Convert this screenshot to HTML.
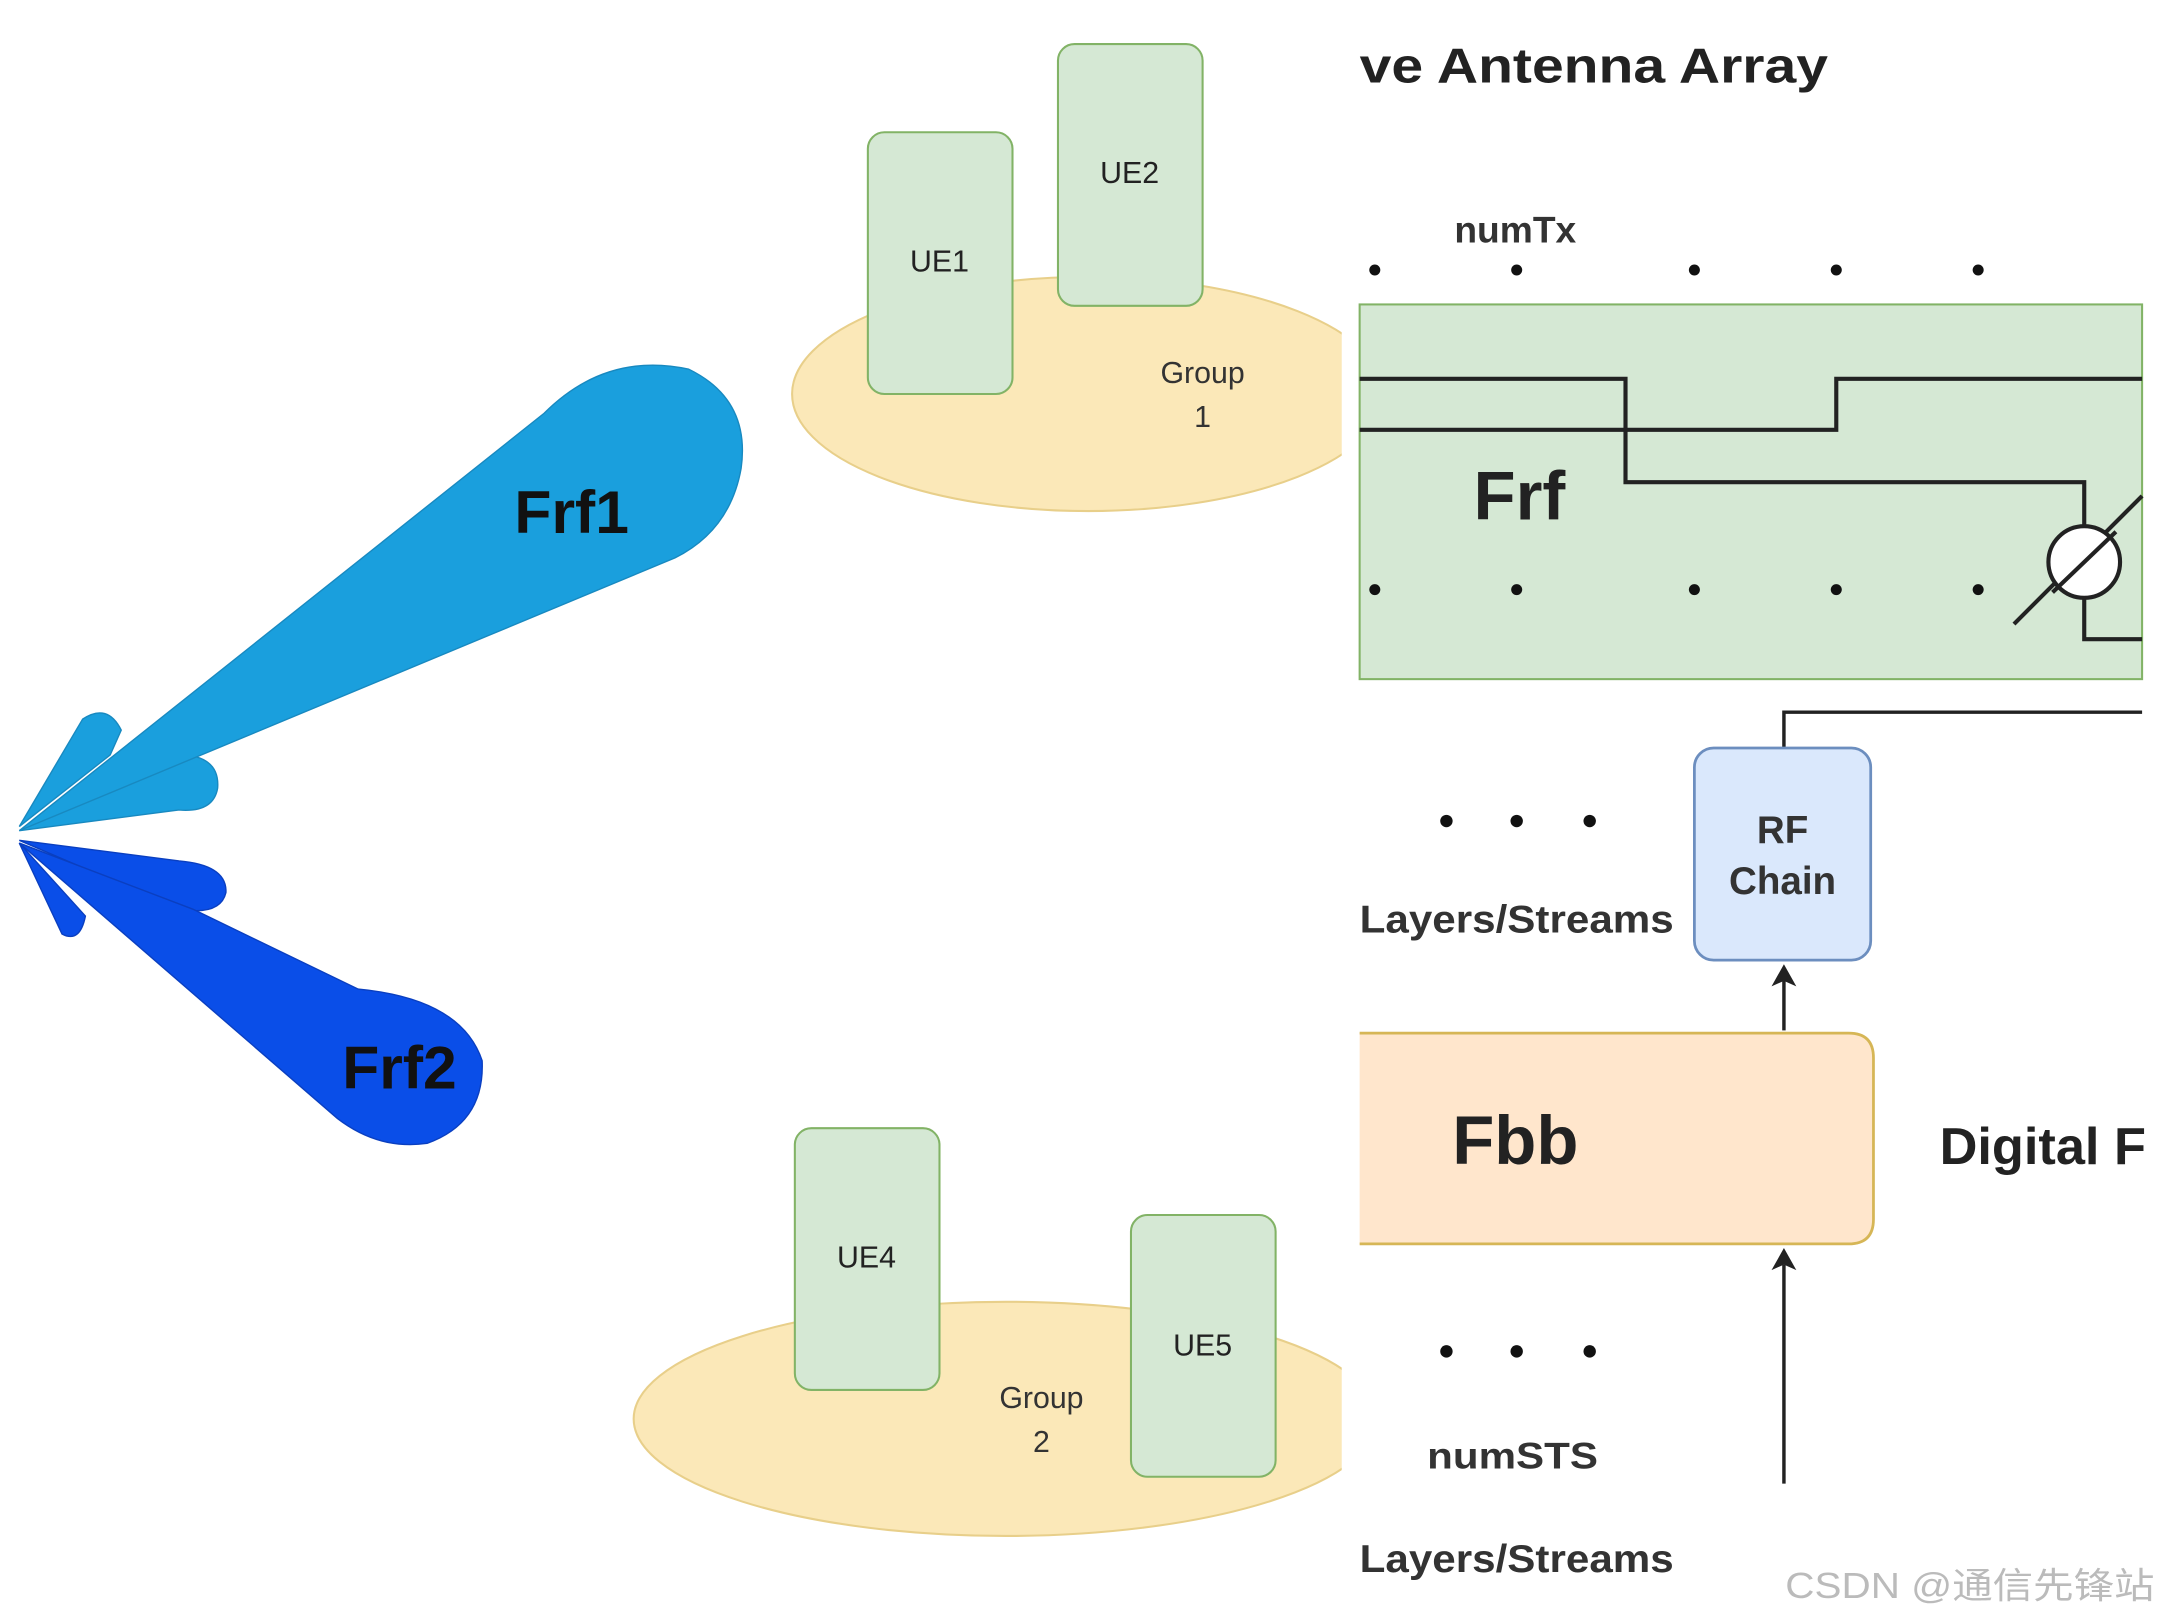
<!DOCTYPE html>
<html><head><meta charset="utf-8"><style>html,body{margin:0;padding:0;background:#fff}svg{display:block}</style></head>
<body>
<svg width="2160" height="1620" viewBox="0 0 1568 1176" preserveAspectRatio="none" xmlns="http://www.w3.org/2000/svg" font-family="Liberation Sans, sans-serif">
<rect width="1568" height="1176" fill="#fff"/>
<!-- beams -->
<g fill="#1a9fdd" stroke="#1889c0" stroke-width="1">
<path d="M14,600 L60,522 Q78,510 88,530 L80,548 Z"/>
<path d="M14,603 L120,548 Q160,545 158,572 Q155,590 130,588 Z"/>
<path d="M14,603 L395,300 Q440,255 500,268 Q545,290 538,340 Q530,385 490,405 Z"/>
</g>
<g fill="#0a4ee8" stroke="#0a3fc0" stroke-width="1">
<path d="M14,612 L62,665 Q58,685 45,678 Z"/>
<path d="M14,610 L130,625 Q165,628 164,648 Q160,665 130,660 Z"/>
<path d="M14,612 L140,660 L260,718 Q335,725 350,770 Q352,815 310,830 Q275,835 245,812 Z"/>
</g>
<text x="415" y="387" font-size="44" font-weight="bold" text-anchor="middle" fill="#111">Frf1</text>
<text x="290" y="790" font-size="44" font-weight="bold" text-anchor="middle" fill="#111">Frf2</text>
<!-- group 1 -->
<ellipse cx="790" cy="286" rx="215" ry="85" fill="#fbe8b8" stroke="#e8cf8a" stroke-width="1.5"/>
<rect x="630" y="96" width="105" height="190" rx="12" fill="#d5e8d4" stroke="#82b366" stroke-width="1.5"/>
<rect x="768" y="32" width="105" height="190" rx="12" fill="#d5e8d4" stroke="#82b366" stroke-width="1.5"/>
<text x="682" y="197" font-size="22" text-anchor="middle" fill="#222">UE1</text>
<text x="820" y="133" font-size="22" text-anchor="middle" fill="#222">UE2</text>
<text x="873" y="278" font-size="22" text-anchor="middle" fill="#333">Group</text>
<text x="873" y="310" font-size="22" text-anchor="middle" fill="#333">1</text>
<!-- group 2 -->
<ellipse cx="730" cy="1030" rx="270" ry="85" fill="#fbe8b8" stroke="#e8cf8a" stroke-width="1.5"/>
<rect x="577" y="819" width="105" height="190" rx="12" fill="#d5e8d4" stroke="#82b366" stroke-width="1.5"/>
<rect x="821" y="882" width="105" height="190" rx="12" fill="#d5e8d4" stroke="#82b366" stroke-width="1.5"/>
<text x="629" y="920" font-size="22" text-anchor="middle" fill="#222">UE4</text>
<text x="873" y="984" font-size="22" text-anchor="middle" fill="#222">UE5</text>
<text x="756" y="1022" font-size="22" text-anchor="middle" fill="#333">Group</text>
<text x="756" y="1054" font-size="22" text-anchor="middle" fill="#333">2</text>
<!-- right panel -->
<rect x="974" y="0" width="594" height="1176" fill="#fff"/>
<text x="987" y="60" font-size="36" font-weight="bold" fill="#222" textLength="340" lengthAdjust="spacingAndGlyphs">ve Antenna Array</text>
<text x="1100" y="176" font-size="27" font-weight="bold" text-anchor="middle" fill="#333">numTx</text>
<g fill="#111"><circle cx="998" cy="196" r="4"/><circle cx="1101" cy="196" r="4"/><circle cx="1230" cy="196" r="4"/><circle cx="1333" cy="196" r="4"/><circle cx="1436" cy="196" r="4"/></g>
<rect x="987" y="221" width="568" height="272" fill="#d5e8d4" stroke="#82b366" stroke-width="1.5"/>
<g fill="none" stroke="#222" stroke-width="3">
<polyline points="987,275 1180,275 1180,350 1513,350 1513,390"/>
<polyline points="987,312 1333,312 1333,275 1555,275"/>
<polyline points="1513,427 1513,464 1555,464"/>
<line x1="1462" y1="453" x2="1555" y2="360"/>
</g>
<circle cx="1513" cy="408" r="26" fill="#fff" stroke="#222" stroke-width="3"/>
<line x1="1490" y1="430" x2="1536" y2="386" stroke="#222" stroke-width="3"/>
<text x="1103" y="377" font-size="50" font-weight="bold" text-anchor="middle" fill="#222">Frf</text>
<g fill="#111"><circle cx="998" cy="428" r="4"/><circle cx="1101" cy="428" r="4"/><circle cx="1230" cy="428" r="4"/><circle cx="1333" cy="428" r="4"/><circle cx="1436" cy="428" r="4"/></g>
<polyline points="1295,545 1295,517 1555,517" fill="none" stroke="#222" stroke-width="2.5"/>
<g fill="#111"><circle cx="1050" cy="596" r="4.5"/><circle cx="1101" cy="596" r="4.5"/><circle cx="1154" cy="596" r="4.5"/></g>
<text x="987" y="677" font-size="28" font-weight="bold" fill="#333" textLength="228" lengthAdjust="spacingAndGlyphs">Layers/Streams</text>
<rect x="1230" y="543" width="128" height="154" rx="14" fill="#dae8fc" stroke="#6c8ebf" stroke-width="2"/>
<text x="1294" y="612" font-size="28" font-weight="bold" text-anchor="middle" fill="#333">RF</text>
<text x="1294" y="649" font-size="28" font-weight="bold" text-anchor="middle" fill="#333">Chain</text>
<line x1="1295" y1="748" x2="1295" y2="712" stroke="#222" stroke-width="2.5"/>
<path d="M1286,716 L1295,700 L1304,716 L1295,712 Z" fill="#222"/>
<path d="M987,750 L1342,750 Q1360,750 1360,768 L1360,885 Q1360,903 1342,903 L987,903" fill="#ffe6cc" stroke="#d6b656" stroke-width="2"/>
<text x="1100" y="845" font-size="50" font-weight="bold" text-anchor="middle" fill="#222">Fbb</text>
<text x="1408" y="845" font-size="38" font-weight="bold" fill="#222">Digital F</text>
<line x1="1295" y1="1077" x2="1295" y2="918" stroke="#222" stroke-width="2.5"/>
<path d="M1286,922 L1295,906 L1304,922 L1295,918 Z" fill="#222"/>
<g fill="#111"><circle cx="1050" cy="981" r="4.5"/><circle cx="1101" cy="981" r="4.5"/><circle cx="1154" cy="981" r="4.5"/></g>
<text x="1098" y="1066" font-size="27" font-weight="bold" text-anchor="middle" fill="#333" textLength="124" lengthAdjust="spacingAndGlyphs">numSTS</text>
<text x="987" y="1141" font-size="28" font-weight="bold" fill="#333" textLength="228" lengthAdjust="spacingAndGlyphs">Layers/Streams</text>
<text x="1296" y="1160" font-size="26" fill="#bbb" font-family="Liberation Sans, Noto Sans CJK SC, sans-serif" textLength="268" lengthAdjust="spacingAndGlyphs">CSDN @通信先锋站</text>
</svg>
</body></html>
